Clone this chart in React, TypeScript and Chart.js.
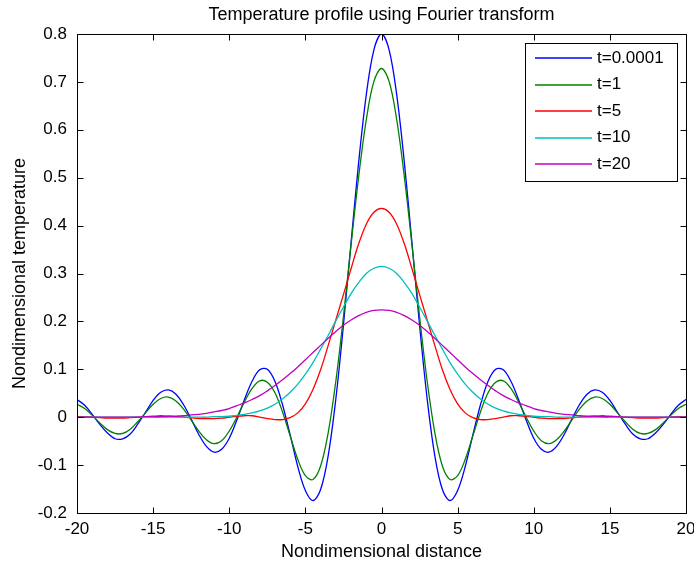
import React, { useEffect, useRef } from "react";
import { Chart, registerables } from "chart.js";

Chart.register(...registerables);

// ---------- data ----------
const xPositions = [
  -20, -19.5, -19, -18.5, -18, -17.5, -17, -16.5, -16, -15.5, -15, -14.5, -14, -13.5, -13, -12.5,
  -12, -11.5, -11, -10.5, -10, -9.5, -9, -8.5, -8, -7.5, -7, -6.5, -6, -5.5, -5, -4.5, -4, -3.5,
  -3, -2.5, -2, -1.5, -1, -0.5, 0, 0.5, 1, 1.5, 2, 2.5, 3, 3.5, 4, 4.5, 5, 5.5, 6, 6.5, 7, 7.5, 8,
  8.5, 9, 9.5, 10, 10.5, 11, 11.5, 12, 12.5, 13, 13.5, 14, 14.5, 15, 15.5, 16, 16.5, 17, 17.5, 18,
  18.5, 19, 19.5, 20,
];

const tempT0001 = [
  0.037, 0.025, 0.006, -0.015, -0.033, -0.045, -0.045, -0.035, -0.014, 0.010, 0.035, 0.052, 0.057,
  0.048, 0.026, -0.004, -0.036, -0.061, -0.073, -0.067, -0.044, -0.006, 0.037, 0.075, 0.099, 0.100,
  0.075, 0.026, -0.037, -0.103, -0.153, -0.174, -0.151, -0.080, 0.038, 0.192, 0.364, 0.532, 0.673,
  0.767,
  0.800,
  0.767, 0.673, 0.532, 0.364, 0.192, 0.038, -0.080, -0.151, -0.174, -0.153, -0.103, -0.037, 0.026,
  0.075, 0.100, 0.099, 0.075, 0.037, -0.006, -0.044, -0.067, -0.073, -0.061, -0.036, -0.004, 0.026,
  0.048, 0.057, 0.052, 0.035, 0.010, -0.014, -0.035, -0.045, -0.045, -0.033, -0.015, 0.006, 0.025,
  0.037,
];

const tempT1 = [
  0.027, 0.018, 0.004, -0.012, -0.026, -0.034, -0.034, -0.025, -0.009, 0.009, 0.027, 0.039, 0.042,
  0.034, 0.017, -0.006, -0.029, -0.047, -0.055, -0.049, -0.029, 0.000, 0.032, 0.060, 0.076, 0.073,
  0.051, 0.011, -0.039, -0.088, -0.122, -0.130, -0.102, -0.032, 0.075, 0.210, 0.360, 0.502, 0.621,
  0.701,
  0.728,
  0.701, 0.621, 0.502, 0.360, 0.210, 0.075, -0.032, -0.102, -0.130, -0.122, -0.088, -0.039, 0.011,
  0.051, 0.073, 0.076, 0.060, 0.032, 0.000, -0.029, -0.049, -0.055, -0.047, -0.029, -0.006, 0.017,
  0.034, 0.042, 0.039, 0.027, 0.009, -0.009, -0.025, -0.034, -0.034, -0.026, -0.012, 0.004, 0.018,
  0.027,
];

const tempT5 = [
  0.001, 0.001, 0.000, -0.001, -0.002, -0.002, -0.002, -0.001, 0.000, 0.001, 0.002, 0.003, 0.002,
  0.001, 0.000, -0.001, -0.003, -0.003, -0.003, -0.002, 0.000, 0.002, 0.003, 0.003, 0.000, -0.003,
  -0.005, -0.005, -0.001, 0.009, 0.028, 0.058, 0.099, 0.150, 0.203, 0.256, 0.310, 0.362, 0.403,
  0.428,
  0.436,
  0.428, 0.403, 0.362, 0.310, 0.256, 0.203, 0.150, 0.099, 0.058, 0.028, 0.009, -0.001, -0.005,
  -0.005, -0.003, 0.000, 0.003, 0.003, 0.002, 0.000, -0.002, -0.003, -0.003, -0.003, -0.001, 0.000,
  0.001, 0.002, 0.003, 0.002, 0.001, 0.000, -0.001, -0.002, -0.002, -0.002, -0.001, 0.000, 0.001,
  0.001,
];

const tempT10 = [
  0, 0, 0, 0, 0, 0, 0, 0, 0, 0, 0, 0, 0, 0, 0, 0, 0, 0, 0.001, 0.001, 0.002, 0.004, 0.006, 0.009,
  0.013, 0.019, 0.027, 0.038, 0.052, 0.069, 0.090, 0.114, 0.142, 0.171, 0.201, 0.230, 0.258, 0.281,
  0.300, 0.311,
  0.315,
  0.311, 0.300, 0.281, 0.258, 0.230, 0.201, 0.171, 0.142, 0.114, 0.090, 0.069, 0.052, 0.038, 0.027,
  0.019, 0.013, 0.009, 0.006, 0.004, 0.002, 0.001, 0.001, 0, 0, 0, 0, 0, 0, 0, 0, 0, 0, 0, 0, 0, 0,
  0, 0, 0, 0,
];

const tempT20 = [
  0, 0, 0, 0, 0, 0, 0, 0, 0, 0.001, 0.001, 0.001, 0.002, 0.002, 0.003, 0.005, 0.006, 0.008, 0.011,
  0.014, 0.018, 0.024, 0.030, 0.037, 0.045, 0.055, 0.066, 0.078, 0.091, 0.105, 0.120, 0.135, 0.150,
  0.165, 0.179, 0.192, 0.203, 0.212, 0.219, 0.223,
  0.224,
  0.223, 0.219, 0.212, 0.203, 0.192, 0.179, 0.165, 0.150, 0.135, 0.120, 0.105, 0.091, 0.078, 0.066,
  0.055, 0.045, 0.037, 0.030, 0.024, 0.018, 0.014, 0.011, 0.008, 0.006, 0.005, 0.003, 0.002, 0.002,
  0.001, 0.001, 0.001, 0, 0, 0, 0, 0, 0, 0, 0, 0,
];

const seriesLabels = ["t=0.0001", "t=1", "t=5", "t=10", "t=20"];
const seriesValues = [tempT0001, tempT1, tempT5, tempT10, tempT20];
const seriesColors = ["#0000ff", "#008000", "#ff0000", "#00bfbf", "#bf00bf"];

const xTickValues = [-20, -15, -10, -5, 0, 5, 10, 15, 20];
const yTickValues = [-0.2, -0.1, 0, 0.1, 0.2, 0.3, 0.4, 0.5, 0.6, 0.7, 0.8];

const titleText = "Temperature profile using Fourier transform";
const xTitleText = "Nondimensional distance";
const yTitleText = "Nondimensional temperature";

const FONT = "'Liberation Sans', Arial, Helvetica, sans-serif";

// ---------- plugins ----------
const axesFramePlugin = {
  id: "axesFrame",
  afterDatasetsDraw(chart: any) {
    const { ctx, chartArea, scales } = chart;
    const L = Math.round(chartArea.left) + 0.5;
    const R = Math.round(chartArea.right) + 0.5;
    const T = Math.round(chartArea.top) + 0.5;
    const B = Math.round(chartArea.bottom) + 0.5;
    const tick = 6;
    ctx.save();
    ctx.strokeStyle = "#000";
    ctx.lineWidth = 1;
    ctx.beginPath();
    ctx.rect(L, T, R - L, B - T);
    for (const v of xTickValues) {
      const px = Math.round(scales.x.getPixelForValue(v)) + 0.5;
      ctx.moveTo(px, B);
      ctx.lineTo(px, B - tick);
      ctx.moveTo(px, T);
      ctx.lineTo(px, T + tick);
    }
    for (const v of yTickValues) {
      const py = Math.round(scales.y.getPixelForValue(v)) + 0.5;
      ctx.moveTo(L, py);
      ctx.lineTo(L + tick, py);
      ctx.moveTo(R, py);
      ctx.lineTo(R - tick, py);
    }
    ctx.stroke();
    ctx.restore();
  },
};

const boxLegendPlugin = {
  id: "boxLegend",
  afterDraw(chart: any) {
    const { ctx, chartArea } = chart;
    const boxRight = Math.round(chartArea.right) - 9;
    const boxTop = Math.round(chartArea.top) + 9;
    const boxW = 152;
    const boxH = 138;
    const boxLeft = boxRight - boxW;
    ctx.save();
    ctx.fillStyle = "#fff";
    ctx.fillRect(boxLeft, boxTop, boxW, boxH);
    ctx.strokeStyle = "#000";
    ctx.lineWidth = 1;
    ctx.strokeRect(boxLeft + 0.5, boxTop + 0.5, boxW, boxH);
    ctx.font = `17px ${FONT}`;
    ctx.textBaseline = "middle";
    ctx.textAlign = "left";
    seriesLabels.forEach((label, i) => {
      const y = boxTop + 15.3 + i * 26.4;
      ctx.strokeStyle = seriesColors[i];
      ctx.lineWidth = 1.4;
      ctx.beginPath();
      ctx.moveTo(boxLeft + 10, Math.round(y));
      ctx.lineTo(boxLeft + 67, Math.round(y));
      ctx.stroke();
      ctx.fillStyle = "#000";
      ctx.fillText(label, boxLeft + 72, y);
    });
    ctx.restore();
  },
};

export default function App() {
  const canvasRef = useRef<HTMLCanvasElement | null>(null);

  useEffect(() => {
    const canvas = canvasRef.current;
    if (!canvas) return;
    Chart.defaults.font.family = FONT;
    Chart.defaults.color = "#000";

    const datasets = seriesValues.map((vals, i) => ({
      label: seriesLabels[i],
      data: xPositions.map((x, j) => ({ x, y: vals[j] })),
      borderColor: seriesColors[i],
      backgroundColor: seriesColors[i],
      borderWidth: 1.3,
      pointRadius: 0,
      pointHoverRadius: 0,
      tension: 0.35,
      fill: false,
      order: seriesValues.length - 1 - i,
    }));

    const chart = new Chart(canvas, {
      type: "line",
      data: { datasets },
      options: {
        animation: false,
        responsive: false,
        maintainAspectRatio: false,
        devicePixelRatio: 1,
        events: [],
        layout: { padding: { left: 0, right: 8, top: 0, bottom: 0 } },
        plugins: {
          legend: { display: false },
          tooltip: { enabled: false },
          title: {
            display: true,
            text: titleText,
            fullSize: false,
            color: "#000",
            font: { size: 18, weight: "normal", family: FONT, lineHeight: 1.2 },
            padding: { top: 4, bottom: 8.4 },
          },
        },
        scales: {
          x: {
            type: "linear",
            min: -20,
            max: 20,
            afterBuildTicks: (scale: any) => {
              scale.ticks = xTickValues.map((v) => ({ value: v }));
            },
            afterFit: (scale: any) => {
              scale.height = 54;
              scale.paddingLeft = 0;
              scale.paddingRight = 0;
            },
            ticks: {
              autoSkip: false,
              maxRotation: 0,
              padding: 6,
              color: "#000",
              font: { size: 17, family: FONT, lineHeight: 1.2 },
              callback: (v: any) => String(v),
            },
            grid: { display: false, drawTicks: false },
            border: { display: false },
            title: {
              display: true,
              text: xTitleText,
              color: "#000",
              font: { size: 18, family: FONT, lineHeight: 1.2 },
              padding: { top: 4, bottom: 4.2 },
            },
          },
          y: {
            type: "linear",
            min: -0.2,
            max: 0.8,
            afterBuildTicks: (scale: any) => {
              scale.ticks = yTickValues.map((v) => ({ value: v }));
            },
            afterFit: (scale: any) => {
              scale.width = 77;
              scale.paddingTop = 0;
              scale.paddingBottom = 0;
            },
            ticks: {
              autoSkip: false,
              padding: 10,
              color: "#000",
              font: { size: 17, family: FONT, lineHeight: 1.2 },
              callback: (v: any) => String(Math.round(Number(v) * 10) / 10),
            },
            grid: { display: false, drawTicks: false },
            border: { display: false },
            title: {
              display: true,
              text: yTitleText,
              color: "#000",
              font: { size: 18, family: FONT, lineHeight: 1.2 },
              padding: { top: 9.6, bottom: 0 },
            },
          },
        },
      },
      plugins: [axesFramePlugin, boxLegendPlugin],
    } as any);

    return () => {
      chart.destroy();
    };
  }, []);

  return (
    <div
      style={{
        position: "absolute",
        left: 0,
        top: 0,
        width: 694,
        height: 567,
        background: "#fff",
      }}
    >
      <canvas ref={canvasRef} width={694} height={567} style={{ display: "block" }} />
    </div>
  );
}
